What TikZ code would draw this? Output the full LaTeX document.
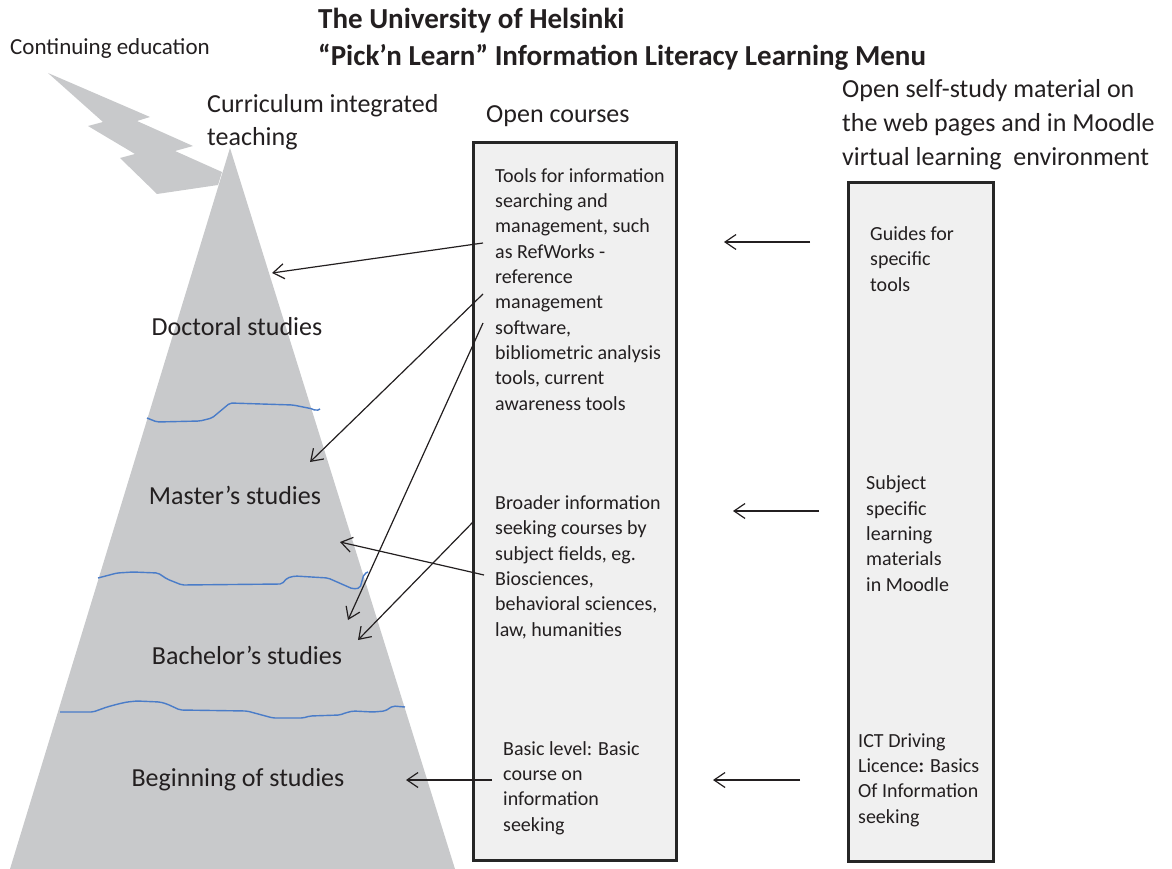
\documentclass[tikz,border=0pt]{standalone}
\usepackage{fontspec}
\setmainfont{Carlito}
\usetikzlibrary{arrows.meta}

\definecolor{inkc}{HTML}{231F20}
\definecolor{pyr}{HTML}{C8C9CB}
\definecolor{boxfill}{HTML}{F0F0F0}
\definecolor{boxline}{HTML}{262626}
\definecolor{wave}{HTML}{4A7CC8}

% multi-line nodes are placed by the baseline of their last line
\tikzset{
  lbl/.style={anchor=base west, inner sep=0pt, text=inkc, font=\fontsize{26}{33}\selectfont, align=left},
  small/.style={anchor=base west, inner sep=0pt, text=inkc, font=\fontsize{20}{25.3}\selectfont, align=left},
  level/.style={anchor=base, inner sep=0pt, text=inkc, font=\fontsize{26}{33}\selectfont},
  column/.style={draw=boxline, line width=3pt, fill=boxfill},
  pointer/.style={draw=inkc, line width=1.2pt, -{Straight Barb[length=11pt,width=15pt,line width=1.2pt]}},
  layerline/.style={draw=wave, line width=1.4pt, line join=round, rounded corners=2pt},
}

\begin{document}
\begin{tikzpicture}[x=1pt,y=-1pt]
\useasboundingbox (0,0) rectangle (1172,869);

% lightning bolt and pyramid
\fill[pyr] (48,73) -- (150,117) -- (137,121) -- (193,146) -- (175,151) -- (222,172)
  -- (218,185) -- (157,194) -- (120,158) -- (135,154) -- (88,126) -- (103,122) -- cycle;
\fill[pyr] (230,148) -- (455,869) -- (10,869) -- cycle;

% layer boundaries
\draw[layerline] (147,418) -- (157,422) -- (200,421) -- (212,418) -- (218,413) -- (230,403)
  -- (293,405) -- (313,409) -- (316,411) -- (320,409);
\draw[layerline] (98,578) -- (117,573) -- (133,572) -- (158,573) -- (167,579) -- (182,585)
  -- (282,584) -- (287,578) -- (295,576) -- (328,578) -- (353,589) -- (360,588) -- (364,574) -- (368,572);
\draw[layerline] (60,712) -- (93,712) -- (107,707) -- (118,704) -- (127,702) -- (137,701)
  -- (160,702) -- (167,704) -- (180,710) -- (247,711) -- (273,718) -- (303,718) -- (310,716)
  -- (340,715) -- (345,713) -- (353,711) -- (373,712) -- (385,711) -- (393,706) -- (405,707);

% columns
\draw[column] (473,143) rectangle (676,860);
\draw[column] (848,183) rectangle (993,861);

% headings
\node[lbl, font=\fontsize{23}{28}\selectfont] (cont) at (10,55) {Continuing education};
\node[lbl, font=\bfseries\fontsize{29}{37}\selectfont] (title) at (318,66)
  {The University of Helsinki\\“Pick’n Learn” Information Literacy Learning Menu};
\node[lbl] (curr) at (207,146) {Curriculum integrated\\teaching};
\node[lbl] (open) at (486,123) {Open courses};
\node[lbl, font=\fontsize{26}{34}\selectfont] (self) at (842,166)
  {Open self-study material on\\the web pages and in Moodle\\virtual learning\ \ environment};

% study levels
\node[level] (doc) at (237,335) {Doctoral studies};
\node[level] (mas) at (235,504) {Master’s studies};
\node[level] (bac) at (247,664) {Bachelor’s studies};
\node[level] (beg) at (238,786) {Beginning of studies};

% open courses
\node[small] (tools) at (495,410) {Tools for information\\searching and\\management, such\\as RefWorks -\\reference\\management\\software,\\bibliometric analysis\\tools, current\\awareness tools};
\node[small] (broad) at (495,636) {Broader information\\seeking courses by\\subject fields, eg.\\Biosciences,\\behavioral sciences,\\law, humanities};
\node[small] (basic) at (503,831) {Basic level: Basic\\course on\\information\\seeking};

% self-study material
\node[small] (guides) at (870,291) {Guides for\\specific\\tools};
\node[small] (subj) at (866,591) {Subject\\specific\\learning\\materials\\in Moodle};
\node[small] (ict) at (858,823) {ICT Driving\\Licence{\bfseries :} Basics\\Of Information\\seeking};

% connector end points
\coordinate (t1s) at (483,243); \coordinate (t1e) at (272,273);
\coordinate (t2s) at (483,294); \coordinate (t2e) at (310,462);
\coordinate (t3s) at (483,323); \coordinate (t3e) at (348,620);
\coordinate (b1s) at (474,521); \coordinate (b1e) at (358,640);
\coordinate (b2s) at (484,575); \coordinate (b2e) at (340,542);
\coordinate (l1s) at (492,780); \coordinate (l1e) at (406,780);
\coordinate (g1s) at (810,242); \coordinate (g1e) at (724,242);
\coordinate (g2s) at (819,511); \coordinate (g2e) at (733,511);
\coordinate (g3s) at (800,780); \coordinate (g3e) at (713,780);

\draw[pointer] (t1s) -- (t1e);
\draw[pointer] (t2s) -- (t2e);
\draw[pointer] (t3s) -- (t3e);
\draw[pointer] (b1s) -- (b1e);
\draw[pointer] (b2s) -- (b2e);
\draw[pointer] (l1s) -- (l1e);
\draw[pointer] (g1s) -- (g1e);
\draw[pointer] (g2s) -- (g2e);
\draw[pointer] (g3s) -- (g3e);
\end{tikzpicture}
\end{document}
